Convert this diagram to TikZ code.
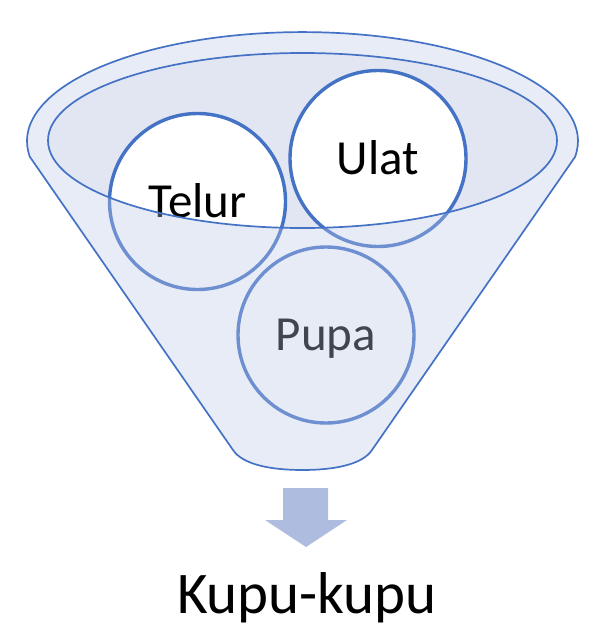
\documentclass[tikz,border=0pt]{standalone}
\usepackage{fontspec}
\setmainfont{Carlito}
\usepackage{xcolor}
\usepackage{tikz}
\usetikzlibrary{positioning}
\definecolor{rimblue}{RGB}{68,114,196}
\definecolor{bodyblue}{RGB}{189,200,232}
\definecolor{gapblue}{RGB}{226,230,242}
\definecolor{arrowblue}{RGB}{174,188,224}

\begin{document}
\begin{tikzpicture}[x=0.5pt,y=-0.5pt,
                    rim/.style={draw=rimblue, line width=0.85pt},
                    body/.style={fill=bodyblue, fill opacity=0.35, even odd rule},
                    stage/.style={circle, draw=rimblue, line width=1.7pt, fill=white,
                                  minimum size=88pt, inner sep=0pt,
                                  font=\fontsize{24.5}{28}\selectfont,
                                  text height=15.8pt, text depth=0pt},
                    blockarrow/.style={fill=arrowblue},
                   ]

\useasboundingbox (0,0) rectangle (600,637);

\coordinate (mouth) at (302.5,140.5);

% opening of the funnel
\fill[gapblue] (mouth) ellipse[x radius=254.5, y radius=87.5];

\node[stage] (telur) at (197.5,201.5) {Telur};
\node[stage] (ulat) at (378,158.5) {Ulat};
\node[stage] (pupa) at (326,335) {Pupa};

% funnel body over the balls
\path[body, rim] (30,157) -- (233,450) .. controls (243,465) and (272,470) .. (302.5,470)
      .. controls (333,470) and (362,465) .. (372,450) -- (575,157)
      arc[start angle=8.4, end angle=-188.4, x radius=275.5, y radius=109] -- cycle
      (mouth) ellipse[x radius=254.5, y radius=87.5];

\fill[blockarrow] (283,488) -- (328,488) -- (328,520) -- (347,520) -- (306,547)
      -- (265,520) -- (283,520) -- cycle;

\node[font=\fontsize{29.5}{34}\selectfont, anchor=base] (kupu) at (307,613) {Kupu-kupu};

\end{tikzpicture}
\end{document}
